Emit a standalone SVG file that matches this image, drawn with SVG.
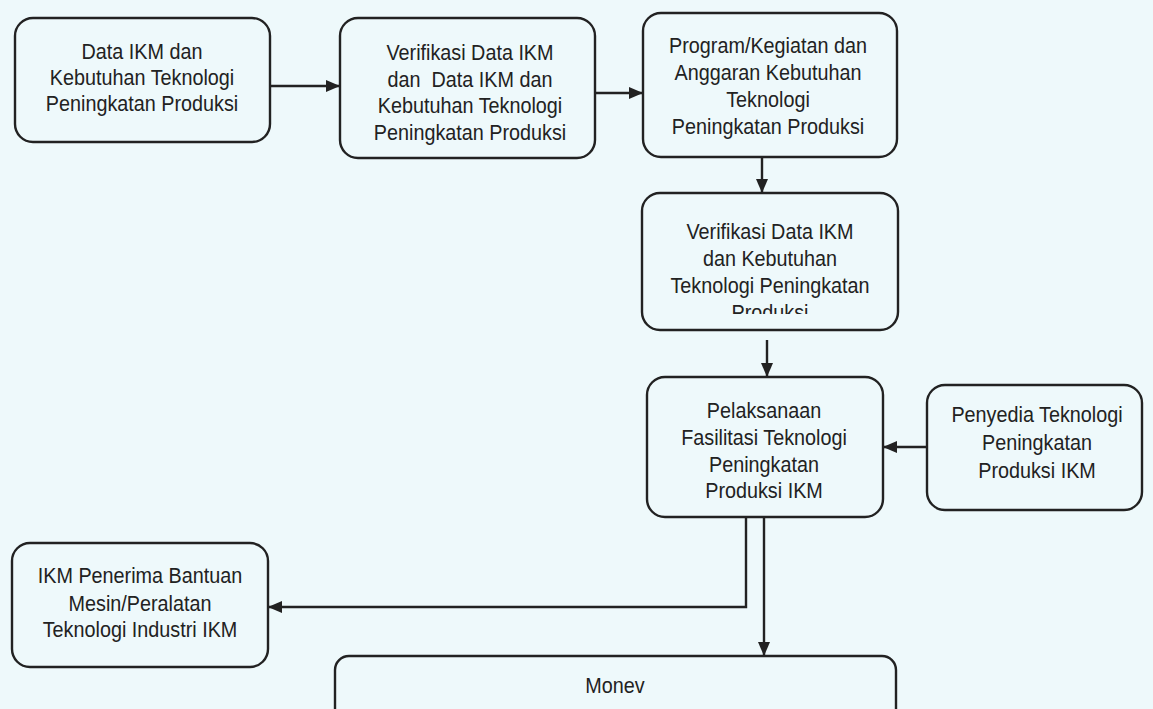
<svg xmlns="http://www.w3.org/2000/svg" width="1153" height="709" viewBox="0 0 1153 709">
  <style>
    .box { fill: none; stroke: #222; stroke-width: 2.4; }
    .lbl { font-family: "Liberation Sans", Arial, sans-serif; font-size: 22px; fill: #222; text-anchor: middle; }
    .wire { fill: none; stroke: #222; stroke-width: 2.4; }
  </style>
  <defs>
    <marker id="head" viewBox="0 0 14 12" refX="14" refY="6" markerWidth="14" markerHeight="12" markerUnits="userSpaceOnUse" orient="auto">
      <path d="M0,0 L14,6 L0,12 Z" fill="#222"/>
    </marker>
    <!-- text frames that cut off the last line -->
    <clipPath id="clip-verif1"><rect x="340" y="18" width="255" height="129"/></clipPath>
    <clipPath id="clip-verif2"><rect x="642" y="193" width="256" height="121"/></clipPath>
  </defs>

  <rect width="1153" height="709" fill="#eef9fb"/>

  <g id="connectors">
    <line class="wire" x1="270" y1="86" x2="340" y2="86" marker-end="url(#head)"/>
    <line class="wire" x1="595" y1="93" x2="643" y2="93" marker-end="url(#head)"/>
    <line class="wire" x1="762" y1="157" x2="762" y2="193" marker-end="url(#head)"/>
    <line class="wire" x1="767" y1="340" x2="767" y2="377" marker-end="url(#head)"/>
    <line class="wire" x1="927" y1="447" x2="883" y2="447" marker-end="url(#head)"/>
    <path class="wire" d="M746,517 V607 H268" marker-end="url(#head)"/>
    <line class="wire" x1="764" y1="517" x2="764" y2="656" marker-end="url(#head)"/>
  </g>

  <!-- labels use a narrowed sans: each text block is scaled horizontally about its centre -->
  <g id="data-ikm">
    <rect class="box" x="15" y="18" width="255" height="124" rx="18"/>
    <g transform="translate(142,0) scale(0.9,1)">
      <text class="lbl" x="0" y="59">Data IKM dan</text>
      <text class="lbl" x="0" y="85">Kebutuhan Teknologi</text>
      <text class="lbl" x="0" y="111">Peningkatan Produksi</text>
    </g>
  </g>

  <g id="verifikasi-1">
    <rect class="box" x="340" y="18" width="255" height="140" rx="18"/>
    <g clip-path="url(#clip-verif1)">
      <g transform="translate(470,0) scale(0.9,1)">
        <text class="lbl" x="0" y="60">Verifikasi Data IKM</text>
        <text class="lbl" x="0" y="87" xml:space="preserve">dan  Data IKM dan</text>
        <text class="lbl" x="0" y="113">Kebutuhan Teknologi</text>
        <text class="lbl" x="0" y="140">Peningkatan Produksi</text>
      </g>
    </g>
  </g>

  <g id="program-kegiatan">
    <rect class="box" x="643" y="13" width="254" height="144" rx="18"/>
    <g transform="translate(768,0) scale(0.9,1)">
      <text class="lbl" x="0" y="53">Program/Kegiatan dan</text>
      <text class="lbl" x="0" y="80">Anggaran Kebutuhan</text>
      <text class="lbl" x="0" y="107">Teknologi</text>
      <text class="lbl" x="0" y="134">Peningkatan Produksi</text>
    </g>
  </g>

  <g id="verifikasi-2">
    <rect class="box" x="642" y="193" width="256" height="137" rx="18"/>
    <g clip-path="url(#clip-verif2)">
      <g transform="translate(770,0) scale(0.9,1)">
        <text class="lbl" x="0" y="239">Verifikasi Data IKM</text>
        <text class="lbl" x="0" y="266">dan Kebutuhan</text>
        <text class="lbl" x="0" y="293">Teknologi Peningkatan</text>
        <text class="lbl" x="0" y="320">Produksi</text>
      </g>
    </g>
  </g>

  <g id="pelaksanaan">
    <rect class="box" x="647" y="377" width="236" height="140" rx="18"/>
    <g transform="translate(764,0) scale(0.9,1)">
      <text class="lbl" x="0" y="418">Pelaksanaan</text>
      <text class="lbl" x="0" y="445">Fasilitasi Teknologi</text>
      <text class="lbl" x="0" y="472">Peningkatan</text>
      <text class="lbl" x="0" y="498">Produksi IKM</text>
    </g>
  </g>

  <g id="penyedia">
    <rect class="box" x="927" y="385" width="215" height="125" rx="18"/>
    <g transform="translate(1037,0) scale(0.9,1)">
      <text class="lbl" x="0" y="422">Penyedia Teknologi</text>
      <text class="lbl" x="0" y="450">Peningkatan</text>
      <text class="lbl" x="0" y="478">Produksi IKM</text>
    </g>
  </g>

  <g id="ikm-penerima">
    <rect class="box" x="12" y="543" width="256" height="124" rx="18"/>
    <g transform="translate(140,0) scale(0.9,1)">
      <text class="lbl" x="0" y="583">IKM Penerima Bantuan</text>
      <text class="lbl" x="0" y="611">Mesin/Peralatan</text>
      <text class="lbl" x="0" y="637">Teknologi Industri IKM</text>
    </g>
  </g>

  <g id="monev">
    <rect class="box" x="335" y="656" width="561" height="90" rx="14"/>
    <g transform="translate(615,0) scale(0.9,1)">
      <text class="lbl" x="0" y="693">Monev</text>
    </g>
  </g>
</svg>
